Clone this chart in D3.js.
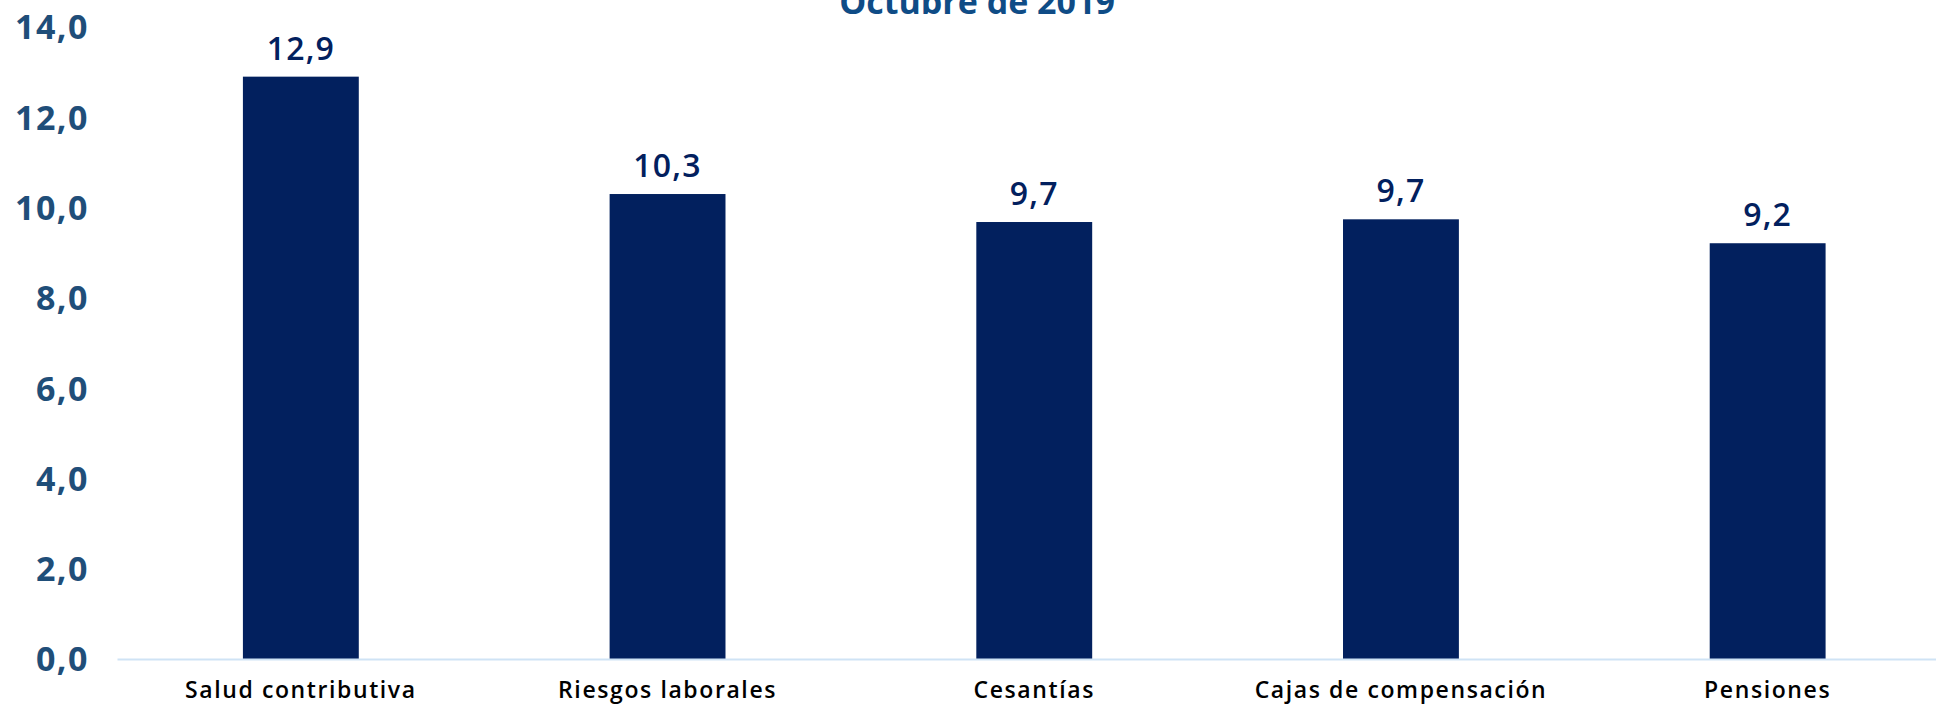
<!DOCTYPE html>
<html>
<head>
<meta charset="utf-8">
<script src="https://cdn.jsdelivr.net/npm/d3@7"></script>
<style>
	body { margin: 0; background: #fff; }
	svg { display: block; }
</style>
</head>
<body>
<div id="stage"></div>
<script>
	'use strict';

	// Chart data
	var title = 'Octubre de 2019';
	var categories = ['Salud contributiva', 'Riesgos laborales', 'Cesantías', 'Cajas de compensación', 'Pensiones'];
	var values = [12.9, 10.3, 9.68, 9.74, 9.21];
	var yTicks = [0, 2, 4, 6, 8, 10, 12, 14];

	var width = 1936, height = 704;
	var margin = {top: 27, left: 117.5, bottom: 45};
	var plotRight = 1951; // the axis runs past the right edge of the picture

	var fmt = function(v, digits) {
		return v.toFixed(digits).replace('.', ',');
	};

	var svg = d3.select('#stage').append('svg')
		.attr('width', width)
		.attr('height', height);

	var x = d3.scaleBand()
		.domain(categories)
		.range([margin.left, plotRight])
		.paddingInner(0.684)
		.paddingOuter(0.342);

	var y = d3.scaleLinear()
		.domain([0, 14])
		.range([height - margin.bottom, margin.top]);

	// Title (cut off at the top in the original too)
	svg.append('text')
		.attr('x', 977)
		.attr('y', 14)
		.attr('text-anchor', 'middle')
		.style('font-family', '"Open Sans", sans-serif')
		.style('font-weight', 700)
		.style('font-size', '34px')
		.style('fill', '#0f4c86')
		.text(title);

	// Y axis labels only
	var yAxis = d3.axisLeft(y)
		.tickValues(yTicks)
		.tickSize(0)
		.tickPadding(0)
		.tickFormat(function(d) { return fmt(d, 1); });

	var yg = svg.append('g')
		.attr('transform', 'translate(89,0)')
		.call(yAxis);
	yg.select('.domain').remove();
	yg.selectAll('text')
		.attr('dy', '0.35em')
		.style('font-family', '"Open Sans", sans-serif')
		.style('font-weight', 700)
		.style('font-size', '34px')
		.style('letter-spacing', '1.5px')
		.style('fill', '#1f4e79');

	// Bars
	svg.selectAll('rect.bar')
		.data(values)
		.enter()
		.append('rect')
		.attr('class', 'bar')
		.attr('x', function(d, i) { return x(categories[i]); })
		.attr('y', function(d) { return y(d); })
		.attr('width', x.bandwidth())
		.attr('height', function(d) { return y(0) - y(d); })
		.style('fill', '#02205e');

	// Baseline
	svg.append('line')
		.attr('x1', margin.left)
		.attr('x2', plotRight)
		.attr('y1', y(0) + 0.5)
		.attr('y2', y(0) + 0.5)
		.style('stroke', '#cfe3f5')
		.style('stroke-width', 2);

	// Value labels
	svg.selectAll('text.value')
		.data(values)
		.enter()
		.append('text')
		.attr('class', 'value')
		.attr('x', function(d, i) { return x(categories[i]) + x.bandwidth()/2; })
		.attr('y', function(d) { return y(d) - 17; })
		.attr('text-anchor', 'middle')
		.style('font-family', '"Open Sans", sans-serif')
		.style('font-weight', 600)
		.style('font-size', '32px')
		.style('letter-spacing', '1.2px')
		.style('fill', '#02205e')
		.text(function(d) { return fmt(d, 1); });

	// Category labels
	var xAxis = d3.axisBottom(x).tickSize(0).tickPadding(0);
	var xg = svg.append('g')
		.attr('transform', 'translate(0,' + (y(0) + 31) + ')')
		.call(xAxis);
	xg.select('.domain').remove();
	xg.selectAll('text')
		.attr('dy', '0.35em')
		.style('font-family', '"Open Sans", sans-serif')
		.style('font-weight', 600)
		.style('font-size', '23px')
		.style('letter-spacing', '1.6px')
		.style('fill', '#000');
</script>
</body>
</html>
